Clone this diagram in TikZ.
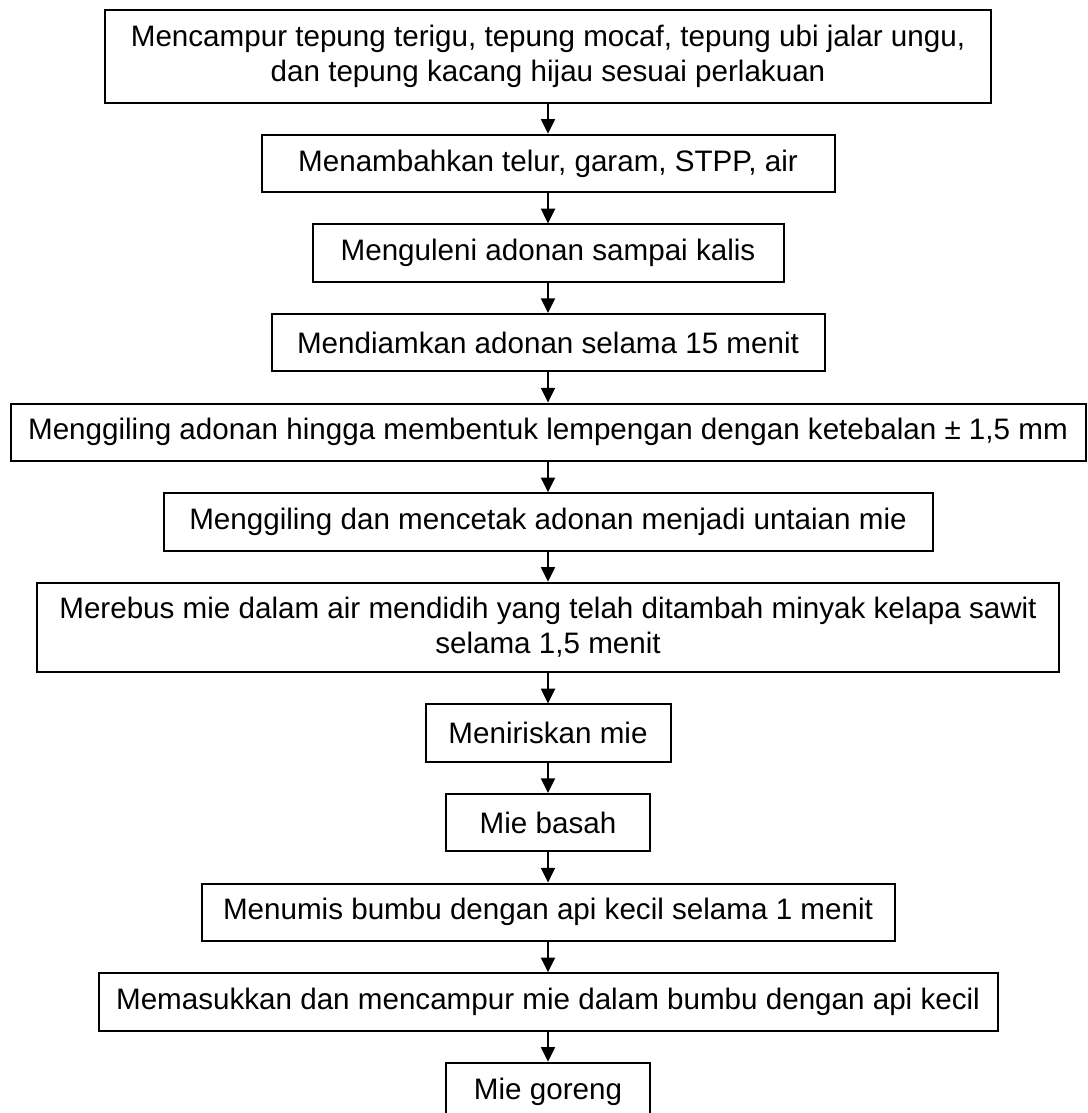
\documentclass[tikz,border=0pt]{standalone}
\usepackage{fontspec}
\setmainfont{Liberation Sans}
\usetikzlibrary{positioning,arrows.meta}

\begin{document}
\begin{tikzpicture}[x=0.75pt, y=-0.75pt, node distance={22.7pt}, line width=1.5pt, >={Triangle[width=10.5pt,length=11pt]},
    proses/.style = {draw, inner sep=0pt, minimum height=43pt, align=center, font=\fontsize{22.2}{26.25}\selectfont}]
        \useasboundingbox (0,0) rectangle (1088,1113);

        \node[proses, minimum width=664.5pt, minimum height=69pt] (1) at (548,56.5) {Mencampur tepung terigu, tepung mocaf, tepung ubi jalar ungu,\\dan tepung kacang hijau sesuai perlakuan};
        \node[proses, minimum width=429.75pt] (2) [below=of 1] {Menambahkan telur, garam, STPP, air};
        \node[proses, minimum width=353.25pt] (3) [below=of 2] {Menguleni adonan sampai kalis};
        \node[proses, minimum width=414.75pt] (4) [below=of 3] {Mendiamkan adonan selama 15 menit};
        \node[proses, minimum width=806.25pt] (5) [below=of 4] {Menggiling adonan hingga membentuk lempengan dengan ketebalan ± 1,5 mm};
        \node[proses, minimum width=576.75pt] (6) [below=of 5] {Menggiling dan mencetak adonan menjadi untaian mie};
        \node[proses, minimum width=766.5pt, minimum height=67pt] (7) [below=of 6] {Merebus mie dalam air mendidih yang telah ditambah minyak kelapa sawit\\selama 1,5 menit};
        \node[proses, minimum width=183.75pt] (8) [below=of 7] {Meniriskan mie};
        \node[proses, minimum width=153pt] (9) [below=of 8] {Mie basah};
        \node[proses, minimum width=519.75pt] (10) [below=of 9] {Menumis bumbu dengan api kecil selama 1 menit};
        \node[proses, minimum width=674.25pt] (11) [below=of 10] {Memasukkan dan mencampur mie dalam bumbu dengan api kecil};
        \node[proses, minimum width=153pt] (12) [below=of 11] {Mie goreng};

        % arrows
        \draw[->] (1) -- (2);
        \draw[->] (2) -- (3);
        \draw[->] (3) -- (4);
        \draw[->] (4) -- (5);
        \draw[->] (5) -- (6);
        \draw[->] (6) -- (7);
        \draw[->] (7) -- (8);
        \draw[->] (8) -- (9);
        \draw[->] (9) -- (10);
        \draw[->] (10) -- (11);
        \draw[->] (11) -- (12);
    \end{tikzpicture}
\end{document}
